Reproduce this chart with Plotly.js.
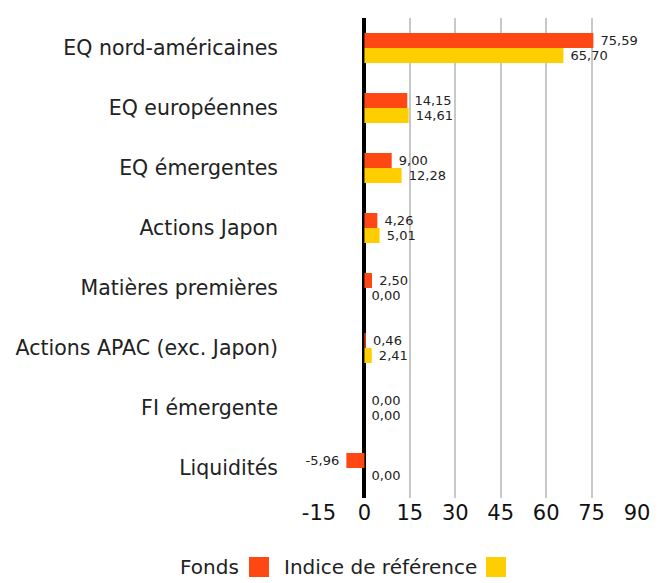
<!DOCTYPE html>
<html>
<head>
<meta charset="utf-8">
<script src="https://cdn.plot.ly/plotly-3.0.1.min.js"></script>
<style>html,body{margin:0;padding:0;background:#fff;}#chart{width:669px;height:583px;}</style>
</head>
<body>
<div id="chart"></div>
<script>
const categories = ["EQ nord-américaines","EQ européennes","EQ émergentes","Actions Japon","Matières premières","Actions APAC (exc. Japon)","FI émergente","Liquidités"];
const fonds = [75.59, 14.15, 9.00, 4.26, 2.50, 0.46, 0.00, -5.96];
const indice = [65.70, 14.61, 12.28, 5.01, 0.00, 2.41, 0.00, 0.00];
const seriesNames = ["Fonds", "Indice de référence"];
const xTicks = [-15, 0, 15, 30, 45, 60, 75, 90];

const FONT = "'DejaVu Sans', Verdana, sans-serif";
const colors = ["#FF4713", "#FFCE00"];
const NB = "\u00a0";
const tmpl = vals => vals.map(v => v < 0 ? "%{x:.2f}" + NB : NB + "%{x:.2f}");

const common = {
  type: "bar", orientation: "h", y: categories,
  textposition: "outside",
  textfont: {family: FONT, size: 13, color: "#222"},
  constraintext: "none", cliponaxis: false, hoverinfo: "none",
  showlegend: false
};
const traces = [
  Object.assign({}, common, {x: fonds, texttemplate: tmpl(fonds), name: seriesNames[0], marker: {color: colors[0]}}),
  Object.assign({}, common, {x: indice, texttemplate: tmpl(indice), name: seriesNames[1], marker: {color: colors[1]}})
];

const legFont = {family: FONT, size: 20, color: "#222"};
const layout = {
  width: 669, height: 583,
  margin: {l: 319, r: 32, t: 18, b: 85},
  paper_bgcolor: "#fff", plot_bgcolor: "#fff",
  barmode: "group", bargap: 0.5, bargroupgap: 0,
  separators: ", ",
  font: {family: FONT, color: "#222"},
  xaxis: {
    range: [-15, 90], tickvals: xTicks, ticktext: xTicks.map(String),
    showgrid: true, gridcolor: "#c8c8c8", gridwidth: 2,
    zeroline: true, zerolinecolor: "#000", zerolinewidth: 4,
    showline: false, ticks: "", tickfont: {family: FONT, size: 21, color: "#111"},
    fixedrange: true
  },
  yaxis: {
    autorange: "reversed", showgrid: false, zeroline: false, showline: false,
    ticks: "", ticklabelstandoff: 40,
    tickfont: {family: FONT, size: 20.5, color: "#222"}, fixedrange: true
  },
  annotations: [
    {xref: "paper", yref: "paper", x: (241-319)/318, y: -(567-498)/480, xanchor: "right", yanchor: "middle",
     text: seriesNames[0], showarrow: false, font: legFont},
    {xref: "paper", yref: "paper", x: (479-319)/318, y: -(567-498)/480, xanchor: "right", yanchor: "middle",
     text: seriesNames[1], showarrow: false, font: legFont}
  ],
  shapes: [
    {type: "rect", xref: "paper", yref: "paper", x0: (249-319)/318, x1: (269-319)/318,
     y0: -(577-498)/480, y1: -(557-498)/480, fillcolor: colors[0], line: {width: 0}},
    {type: "rect", xref: "paper", yref: "paper", x0: (486-319)/318, x1: (506-319)/318,
     y0: -(577-498)/480, y1: -(557-498)/480, fillcolor: colors[1], line: {width: 0}}
  ]
};

Plotly.newPlot("chart", traces, layout, {displayModeBar: false, staticPlot: true});
</script>
</body>
</html>
